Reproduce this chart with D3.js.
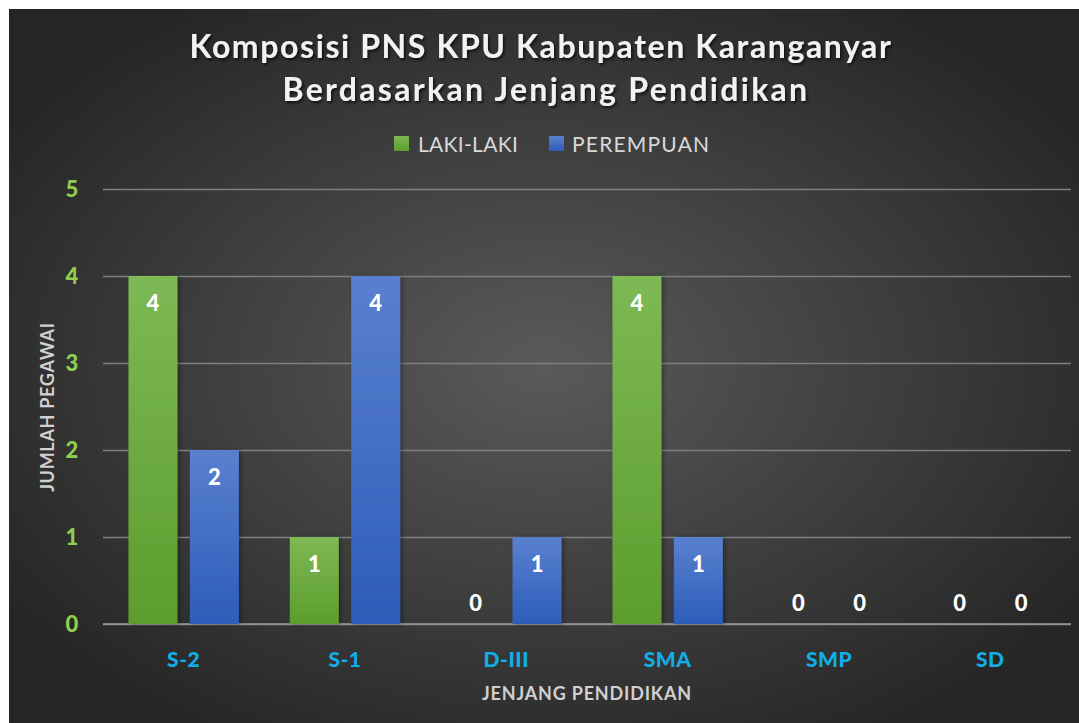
<!DOCTYPE html>
<html><head><meta charset="utf-8">
<script src="https://cdn.jsdelivr.net/npm/d3@7"></script>
<style>html,body{margin:0;padding:0;background:#fff;}svg{display:block;}</style>
</head><body>
<svg id="c" width="1079" height="723"></svg>
<script>
const categories = ["S-2","S-1","D-III","SMA","SMP","SD"];
const lakiLaki = [4,1,0,4,0,0];
const perempuan = [2,4,1,1,0,0];
const seriesNames = ["LAKI-LAKI","PEREMPUAN"];
const yTicks = [0,1,2,3,4,5];
const titleLines = ["Komposisi PNS KPU Kabupaten Karanganyar","Berdasarkan Jenjang Pendidikan"];

(function(){
const svg = d3.select("#c");
const W = 1079, H = 723;
const defs = svg.append("defs");
const rg = defs.append("radialGradient").attr("id","bg").attr("cx","50%").attr("cy","50%").attr("r","60%");
rg.append("stop").attr("offset","0%").attr("stop-color","#5a5a5a");
rg.append("stop").attr("offset","100%").attr("stop-color","#262626");
function lin(id,c1,c2){const g=defs.append("linearGradient").attr("id",id).attr("x1",0).attr("y1",0).attr("x2",0).attr("y2",1);
 g.append("stop").attr("offset","0%").attr("stop-color",c1);g.append("stop").attr("offset","100%").attr("stop-color",c2);}
lin("gG","#7db954","#5d9d2e");
lin("gB","#5a80cf","#2c5db9");
const f = defs.append("filter").attr("id","sh").attr("x","-10%").attr("y","-10%").attr("width","120%").attr("height","130%");
f.append("feDropShadow").attr("dx",1.5).attr("dy",2).attr("stdDeviation",1.5).attr("flood-color","#000").attr("flood-opacity",0.7);
const fb = defs.append("filter").attr("id","bsh").attr("x","-20%").attr("y","-5%").attr("width","140%").attr("height","110%");
fb.append("feDropShadow").attr("dx",2).attr("dy",0).attr("stdDeviation",2).attr("flood-color","#000").attr("flood-opacity",0.35);

svg.append("rect").attr("x",9).attr("y",9).attr("width",W-9).attr("height",H-9).attr("fill","url(#bg)");

const font = "Lato, 'Open Sans', sans-serif";
const pLeft=103, pRight=1071, pTop=189, pBottom=624;
const x = d3.scaleBand().domain(categories).range([pLeft,pRight]);
const y = d3.scaleLinear().domain([0,5]).range([pBottom,pTop]);
const bw = 49, off = 30.7;

svg.append("g").selectAll("text").data(titleLines).join("text")
 .attr("x",(d,i)=>(9+W)/2-3+i*5).attr("y",(d,i)=>58+i*43).attr("text-anchor","middle")
 .attr("font-family",font).attr("font-weight","bold").attr("font-size",32).attr("letter-spacing",(d,i)=>i?"2.3px":"1.6px")
 .attr("fill","#f2f2f2").attr("filter","url(#sh)").text(d=>d);

const leg = [{n:seriesNames[0],c:"url(#gG)",x:394,tx:418,ls:0.3},{n:seriesNames[1],c:"url(#gB)",x:549,tx:572,ls:1.2}];
const lg = svg.append("g");
lg.selectAll("rect").data(leg).join("rect").attr("x",d=>d.x).attr("y",136).attr("width",15).attr("height",15).attr("fill",d=>d.c);
lg.selectAll("text").data(leg).join("text").attr("x",d=>d.tx).attr("y",151.5)
 .attr("font-family",font).attr("font-size",21).attr("letter-spacing",d=>d.ls+"px").attr("fill","#d9d9d9").text(d=>d.n);

svg.append("g").attr("transform",`translate(${pLeft},0)`)
 .call(d3.axisLeft(y).tickValues(yTicks).tickSize(-(pRight-pLeft)).tickFormat(""))
 .call(g=>g.select(".domain").remove())
 .call(g=>g.selectAll("line").attr("stroke","#7f7f7f").attr("stroke-width",1.3));
svg.append("line").attr("x1",pLeft).attr("x2",pRight).attr("y1",pBottom).attr("y2",pBottom).attr("stroke","#9a9a9a").attr("stroke-width",1.5);

svg.append("g").selectAll("text").data(yTicks).join("text")
 .attr("x",72).attr("y",d=>y(d)+8).attr("text-anchor","middle")
 .attr("font-family",font).attr("font-weight","900").attr("font-size",22).attr("fill","#8fcf4f").text(d=>d);

svg.append("g").selectAll("text").data(categories).join("text")
 .attr("x",d=>x(d)+x.bandwidth()/2).attr("y",667).attr("text-anchor","middle")
 .attr("font-family",font).attr("font-weight","900").attr("font-size",21).attr("letter-spacing","0.5px").attr("fill","#11aee8").text(d=>d);

svg.append("text").attr("x",587).attr("y",700).attr("text-anchor","middle")
 .attr("font-family",font).attr("font-weight","bold").attr("font-size",18).attr("letter-spacing","0.8px").attr("fill","#d0d0d0").text("JENJANG PENDIDIKAN");
svg.append("text").attr("transform","translate(54,407) rotate(-90)").attr("text-anchor","middle")
 .attr("font-family",font).attr("font-weight","bold").attr("font-size",18).attr("letter-spacing","0.7px").attr("fill","#d0d0d0").text("JUMLAH PEGAWAI");

const data = categories.map((c,i)=>[{c,v:lakiLaki[i],o:-off,f:"url(#gG)"},{c,v:perempuan[i],o:off,f:"url(#gB)"}]).flat();
svg.append("g").selectAll("rect").data(data.filter(d=>d.v>0)).join("rect")
 .attr("x",d=>x(d.c)+x.bandwidth()/2+d.o-bw/2).attr("width",bw)
 .attr("y",d=>y(d.v)).attr("height",d=>y(0)-y(d.v)).attr("fill",d=>d.f).attr("filter","url(#bsh)");
svg.append("g").selectAll("text").data(data).join("text")
 .attr("x",d=>x(d.c)+x.bandwidth()/2+d.o).attr("y",d=>d.v>0?y(d.v)+35:y(0)-13).attr("text-anchor","middle")
 .attr("font-family",font).attr("font-weight","900").attr("font-size",22).attr("fill","#ffffff").text(d=>d.v);
})();
</script>
</body></html>
